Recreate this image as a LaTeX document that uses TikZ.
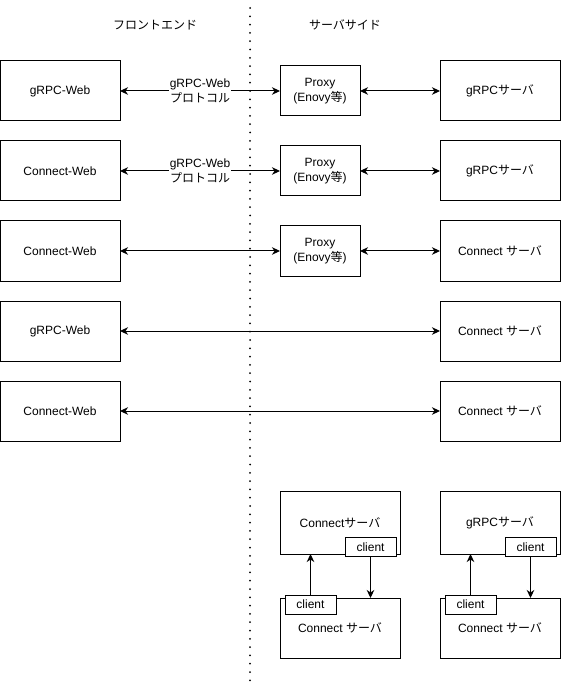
\documentclass[tikz,border=0pt]{standalone}
\usepackage{fontspec}
\setmainfont{Liberation Sans}
\newfontfamily\jpfont{Noto Sans CJK JP}
\usetikzlibrary{positioning, arrows.meta}

\begin{document}
\begin{tikzpicture}[
  x=1pt, y=-1pt,
  node distance=20pt and 80pt,
  box/.style={
    rectangle, draw, line width=1pt, minimum width=120pt, minimum height=60pt,
    outer sep=0pt, font=\fontsize{12}{15}\selectfont, align=center
  },
  proxy/.style={box, minimum width=80pt, minimum height=50pt},
  client/.style={
    rectangle, draw, fill=white, line width=1pt, minimum width=51pt,
    minimum height=19pt, inner sep=1pt, outer sep=0pt,
    font=\fontsize{12}{15}\selectfont
  },
  arrow/.style={-{Stealth[length=8pt, width=7.5pt, inset=2.5pt]}, line width=1pt},
  link/.style={{Stealth[length=8pt, width=7.5pt, inset=2.5pt]}-{Stealth[length=8pt, width=7.5pt, inset=2.5pt]}, line width=1pt},
  proto/.style={fill=white, inner sep=1pt, align=center, font=\fontsize{12}{15}\selectfont},
  head/.style={font=\fontsize{12}{15}\selectfont\jpfont},
  divider/.style={line width=2pt, line cap=round, dash pattern=on 0pt off 8.3pt},
]
\useasboundingbox (0,0) rectangle (562,684);

% --- Divider ---
\coordinate (divtop) at (250,8);
\coordinate (divbot) at (250,684);
\draw[divider] (divtop) -- (divbot);

% --- Headers ---
\node[head] (front) at (155,25) {フロントエンド};
\node[head] (server) at (345,25) {サーバサイド};

% --- Front end column ---
\node[box] (gweb1) at (60,91) {gRPC-Web};
\node[box, below=of gweb1] (cweb1) {Connect-Web};
\node[box, below=of cweb1] (cweb2) {Connect-Web};
\node[box, below=of cweb2] (gweb2) {gRPC-Web};
\node[box, below=of gweb2] (cweb3) {Connect-Web};

% --- Server column ---
\node[box] (gsrv1) at (500,91) {gRPC{\jpfont サーバ}};
\node[box, below=of gsrv1] (gsrv2) {gRPC{\jpfont サーバ}};
\node[box, below=of gsrv2] (csrv1) {Connect {\jpfont サーバ}};
\node[box, below=of csrv1] (csrv2) {Connect {\jpfont サーバ}};
\node[box, below=of csrv2] (csrv3) {Connect {\jpfont サーバ}};

% --- Proxies ---
\node[proxy] (proxy1) at (320,91) {Proxy\\(Enovy{\jpfont 等})};
\node[proxy] (proxy2) at (320,171) {Proxy\\(Enovy{\jpfont 等})};
\node[proxy] (proxy3) at (320,251) {Proxy\\(Enovy{\jpfont 等})};

% --- Arrows ---
\draw[link] (gweb1) -- node[proto] {gRPC-Web\\{\jpfont プロトコル}} (proxy1);
\draw[link] (proxy1) -- (gsrv1);
\draw[link] (cweb1) -- node[proto] {gRPC-Web\\{\jpfont プロトコル}} (proxy2);
\draw[link] (proxy2) -- (gsrv2);
\draw[link] (cweb2) -- (proxy3);
\draw[link] (proxy3) -- (csrv1);
\draw[link] (gweb2) -- (csrv2);
\draw[link] (cweb3) -- (csrv3);

% --- Server to server ---
\node[box, minimum height=63pt] (connA) at (340,522.5) {Connect{\jpfont サーバ}};
\node[box] (connB) at (340,628) {Connect {\jpfont サーバ}};
\node[box, minimum height=63pt] (grpcA) at (500,522.5) {gRPC{\jpfont サーバ}};
\node[box] (connC) at (500,628) {Connect {\jpfont サーバ}};

\node[client] (clA) at (370.5,547) {client};
\node[client] (clB) at (310.5,604.5) {client};
\node[client] (clC) at (530.5,547) {client};
\node[client] (clD) at (470.5,604.5) {client};

\draw[arrow] (clB.north) -- (clB.north |- connA.south);
\draw[arrow] (clA.south) -- (clA.south |- connB.north);
\draw[arrow] (clD.north) -- (clD.north |- grpcA.south);
\draw[arrow] (clC.south) -- (clC.south |- connC.north);

\end{tikzpicture}
\end{document}
